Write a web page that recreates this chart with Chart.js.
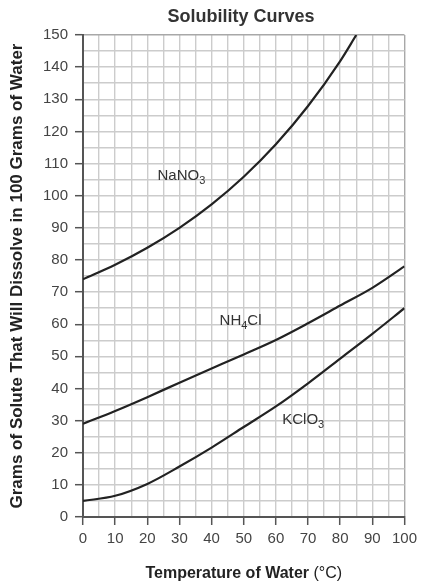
<!DOCTYPE html>
<html>
<head>
<meta charset="utf-8">
<script src="https://cdn.jsdelivr.net/npm/chart.js@4.4.1/dist/chart.umd.min.js"></script>
<style>
html,body{margin:0;padding:0;background:#fff;}
#wrap{width:422px;height:586px;}
</style>
</head>
<body>
<div id="wrap"><canvas id="c" width="422" height="586"></canvas></div>
<script>
// Data
const chartTitle = 'Solubility Curves';
const temps = [0, 10, 20, 30, 40, 50, 60, 70, 80, 90, 100];
const nano3Temps = [0, 10, 20, 30, 40, 50, 60, 70, 80, 85];
const nano3 = [74, 78.5, 83.8, 90, 97.3, 105.9, 116, 127.9, 141.9, 150];
const nh4cl = [29, 33, 37.3, 41.8, 46.2, 50.6, 55.1, 60.3, 65.8, 71.3, 78];
const kclo3 = [5, 6.6, 10.3, 15.7, 21.6, 28, 34.4, 41.6, 49.3, 57, 65];
const xTicks = [0, 10, 20, 30, 40, 50, 60, 70, 80, 90, 100];
const yTicks = [0, 10, 20, 30, 40, 50, 60, 70, 80, 90, 100, 110, 120, 130, 140, 150];
const seriesLabels = [
  {base: 'NaNO', sub: '3', tail: '', x: 30.6, y: 106.7},
  {base: 'NH', sub: '4', tail: 'Cl', x: 49, y: 61.6},
  {base: 'KClO', sub: '3', tail: '', x: 68.5, y: 30.6}
];

const pts = (xs, ys) => xs.map((x, i) => ({x: x, y: ys[i]}));

const FONT = "'Liberation Sans', Arial, sans-serif";
const lineStyle = {
  borderColor: '#222', borderWidth: 2.2, pointRadius: 0, pointHoverRadius: 0,
  cubicInterpolationMode: 'monotone', fill: false
};

const labelsPlugin = {
  id: 'labelsPlugin',
  afterDatasetsDraw(chart) {
    const ctx = chart.ctx, xs = chart.scales.x, ys = chart.scales.y, ca = chart.chartArea;
    ctx.save();
    ctx.textBaseline = 'alphabetic';
    ctx.textAlign = 'left';
    // chart title
    ctx.fillStyle = '#333';
    ctx.font = 'bold 18px ' + FONT;
    ctx.textAlign = 'center';
    ctx.fillText(chartTitle, 241, 22);
    ctx.textAlign = 'left';
    seriesLabels.forEach(l => {
      const px = xs.getPixelForValue(l.x), py = ys.getPixelForValue(l.y) + 5.5;
      ctx.font = '15px ' + FONT;
      const w1 = ctx.measureText(l.base).width;
      const w3 = ctx.measureText(l.tail).width;
      ctx.font = '11px ' + FONT;
      const w2 = ctx.measureText(l.sub).width;
      const x0 = px - (w1 + w2 + w3) / 2;
      ctx.font = '15px ' + FONT;
      ctx.fillText(l.base, x0, py);
      ctx.font = '11px ' + FONT;
      ctx.fillText(l.sub, x0 + w1, py + 4);
      ctx.font = '15px ' + FONT;
      ctx.fillText(l.tail, x0 + w1 + w2, py);
    });
    // x axis title with mixed weights
    const t1 = 'Temperature of Water ', t2 = '(\u00B0C)';
    ctx.font = 'bold 16px ' + FONT;
    const m1 = ctx.measureText(t1).width;
    ctx.font = '16px ' + FONT;
    const m2 = ctx.measureText(t2).width;
    const cx = (ca.left + ca.right) / 2;
    const sx = cx - (m1 + m2) / 2;
    const ty = 578;
    ctx.fillStyle = '#222';
    ctx.font = 'bold 16px ' + FONT;
    ctx.fillText(t1, sx, ty);
    ctx.font = '16px ' + FONT;
    ctx.fillText(t2, sx + m1, ty);
    ctx.restore();
  }
};

const gridColor = (maxV) => c => (c.tick && c.tick.value === maxV) ? '#a8a8a8' : '#cccccc';
const tickCol = c => (c.tick && c.tick.value % 10 === 0) ? '#555' : 'rgba(0,0,0,0)';

new Chart(document.getElementById('c'), {
  type: 'line',
  data: {
    datasets: [
      Object.assign({label: 'NaNO3', data: pts(nano3Temps, nano3)}, lineStyle),
      Object.assign({label: 'NH4Cl', data: pts(temps, nh4cl)}, lineStyle),
      Object.assign({label: 'KClO3', data: pts(temps, kclo3)}, lineStyle)
    ]
  },
  options: {
    responsive: false,
    animation: false,
    devicePixelRatio: 1,
    layout: {padding: {left: 0, right: 15, top: 35, bottom: 0}},
    plugins: {
      legend: {display: false},
      tooltip: {enabled: false},
      title: {display: false}
    },
    scales: {
      x: {
        type: 'linear', min: 0, max: 100,
        afterBuildTicks(s) { s.ticks = []; for (let v = 0; v <= 100; v += 5) s.ticks.push({value: v}); },
        afterFit(s) { s.height = 69; },
        ticks: {
          color: '#444', font: {family: FONT, size: 15}, padding: 5, maxRotation: 0, autoSkip: false,
          callback: v => xTicks.includes(v) ? String(v) : ''
        },
        grid: {
          color: gridColor(100), lineWidth: 1.4, tickLength: 8,
          tickColor: tickCol, tickWidth: 1.5
        },
        border: {color: '#555', width: 2}
      },
      y: {
        type: 'linear', min: 0, max: 150,
        afterBuildTicks(s) { s.ticks = []; for (let v = 0; v <= 150; v += 5) s.ticks.push({value: v}); },
        afterFit(s) { s.width = 83; },
        ticks: {
          color: '#444', font: {family: FONT, size: 15}, padding: 7, autoSkip: false,
          callback: v => yTicks.includes(v) ? String(v) : ''
        },
        grid: {
          color: gridColor(150), lineWidth: 1.4, tickLength: 8,
          tickColor: tickCol, tickWidth: 1.5
        },
        border: {color: '#555', width: 2},
        title: {
          display: true, text: 'Grams of Solute That Will Dissolve in 100 Grams of Water',
          color: '#222', font: {family: FONT, size: 17, weight: 'bold'}, padding: {top: 7, bottom: 0}
        }
      }
    }
  },
  plugins: [labelsPlugin]
});
</script>
</body>
</html>
